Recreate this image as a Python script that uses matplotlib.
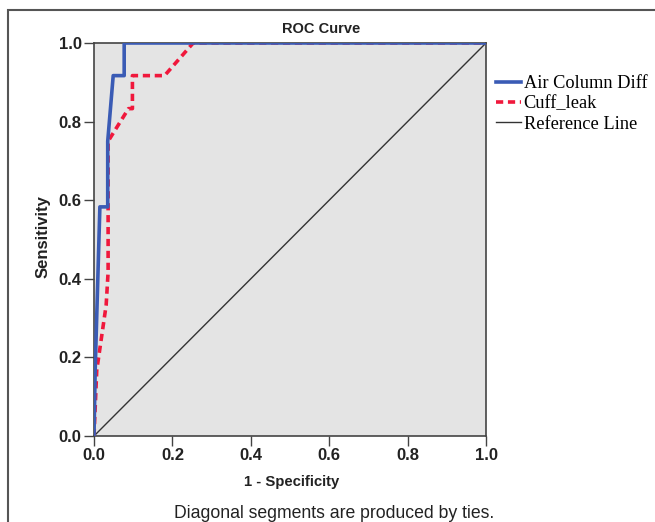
import matplotlib
matplotlib.use("Agg")
import matplotlib.pyplot as plt
from matplotlib.lines import Line2D
from matplotlib.patches import Rectangle

# Data
air_fpr = [0.0, 0.003, 0.015, 0.035, 0.035, 0.049, 0.077, 0.077, 1.0]
air_tpr = [0.0, 0.167, 0.583, 0.583, 0.750, 0.917, 0.917, 1.0, 1.0]
cuff_fpr = [0.0, 0.007, 0.031, 0.036, 0.036, 0.088, 0.098, 0.098, 0.180, 0.253, 1.0]
cuff_tpr = [0.0, 0.167, 0.333, 0.417, 0.750, 0.833, 0.833, 0.917, 0.917, 1.0, 1.0]
ref = [0.0, 1.0]
ticks = [0.0, 0.2, 0.4, 0.6, 0.8, 1.0]
tick_labels = ["0.0", "0.2", "0.4", "0.6", "0.8", "1.0"]

W, H = 655, 522
fig = plt.figure(figsize=(6.55, 5.22), dpi=100)
ax = fig.add_axes([94/W, 1-436/H, (486-94)/W, (436-43)/H])
ax.set_facecolor("#e4e4e4")

ax.plot(ref, ref, color="#333333", lw=1.0, zorder=2)
ax.plot(cuff_fpr, cuff_tpr, color="#f0183c", lw=2.6, ls=(0, (2, 1.3)), zorder=3)
ax.plot(air_fpr, air_tpr, color="#3a5bb5", lw=2.6, zorder=4)

ax.set_xlim(0, 1)
ax.set_ylim(0, 1)
ax.set_xticks(ticks)
ax.set_xticklabels(tick_labels, fontsize=12, fontweight="bold", family="Liberation Sans", color="#222222")
ax.set_yticks(ticks)
ax.set_yticklabels(tick_labels, fontsize=12, fontweight="bold", family="Liberation Sans", color="#222222")
for s in ax.spines.values():
    s.set_color("#444444")
    s.set_linewidth(1.2)
ax.tick_params(direction="out", length=7, width=1.0, color="#444444", pad=2)

fig.text(321/W, 1-29/H, "ROC Curve", ha="center", va="center", fontsize=10.5,
         fontweight="bold", family="Liberation Sans", color="#222222")
fig.text(292/W, 1-482/H, "1 - Specificity", ha="center", va="center", fontsize=10.7,
         fontweight="bold", family="Liberation Sans", color="#222222")
fig.text(43/W, 1-237/H, "Sensitivity", ha="center", va="center", rotation=90, fontsize=12,
         fontweight="bold", family="Liberation Sans", color="#222222")

handles = [Line2D([], [], color="#3a5bb5", lw=2.6),
           Line2D([], [], color="#f0183c", lw=2.6, ls=(0, (2, 1.3))),
           Line2D([], [], color="#333333", lw=1.0)]
fig.legend(handles, ["Air Column Diff", "Cuff_leak", "Reference Line"],
           loc="upper left", bbox_to_anchor=(496/W, 1-75/H), frameon=False,
           prop={"family": "Liberation Serif", "size": 13.2},
           handlelength=1.35, handletextpad=0.15, labelspacing=0.18, borderaxespad=0,
           borderpad=0)

fig.text(334/W, 1-514/H, "Diagonal segments are produced by ties.",
         ha="center", va="center", fontsize=12.7, family="Liberation Sans", color="#222222")

# frame around the figure
fig.patches.append(Rectangle((8/W, -0.1), 1.2, 1 - 10/H + 0.1, transform=fig.transFigure,
                             fill=False, edgecolor="#555555", lw=1.5))

fig.savefig("out.png", dpi=100)
